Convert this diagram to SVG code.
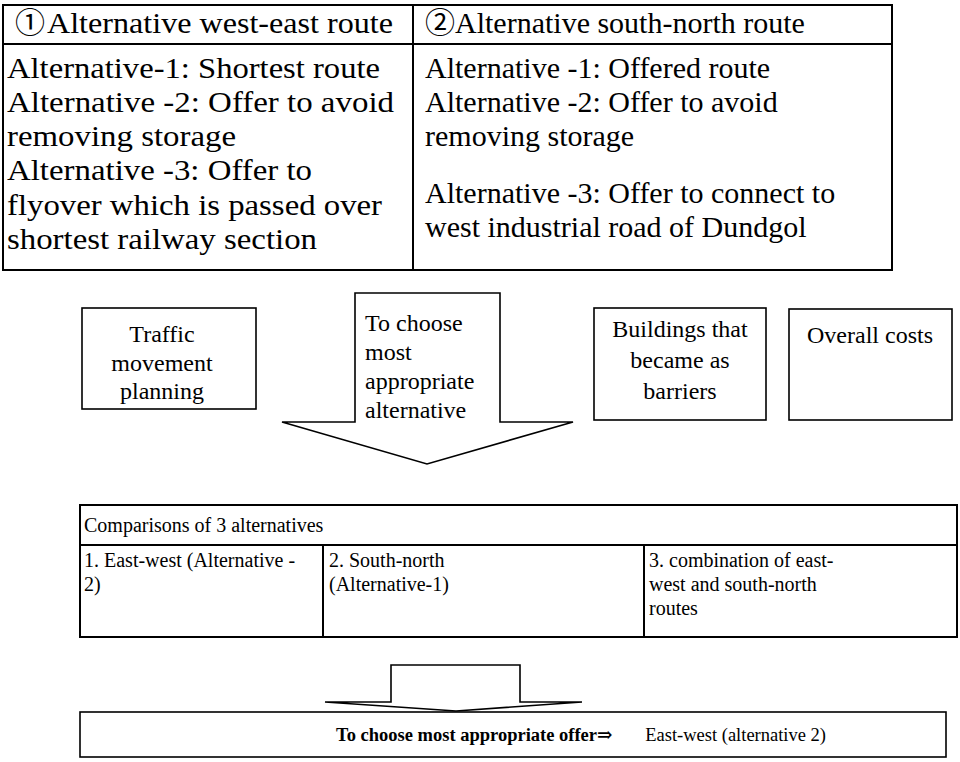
<svg xmlns="http://www.w3.org/2000/svg" width="960" height="762" viewBox="0 0 960 762">
<style>
text{font-family:"Liberation Serif","Times New Roman",serif;fill:#000}
.sym{font-family:"DejaVu Serif","Noto Sans CJK JP",serif}
.big{font-size:30px}
.mid{font-size:24px}
.sm{font-size:20px}
.bt{font-size:18.5px}
.c{text-anchor:middle}
.e{text-anchor:end}
.ln{fill:none;stroke:#000;stroke-width:2}
.bx{fill:#fff;stroke:#000;stroke-width:1.6}
.ar{fill:#fff;stroke:#000;stroke-width:1.6;stroke-linejoin:miter}
</style>
<rect width="960" height="762" fill="#fff"/>

<g id="top-table">
  <rect class="ln" x="3" y="5" width="889" height="265"/>
  <line class="ln" x1="3" y1="44" x2="892" y2="44"/>
  <line class="ln" x1="413" y1="5" x2="413" y2="270"/>
  <text class="sym big" x="15" y="33">①</text>
  <text class="big" x="47" y="33" textLength="346" lengthAdjust="spacingAndGlyphs">Alternative west-east route</text>
  <text class="big" x="7" y="78" textLength="373" lengthAdjust="spacingAndGlyphs">Alternative-1: Shortest route</text>
  <text class="big" x="7" y="112" textLength="387" lengthAdjust="spacingAndGlyphs">Alternative -2: Offer to avoid</text>
  <text class="big" x="7" y="146" textLength="229" lengthAdjust="spacingAndGlyphs">removing storage</text>
  <text class="big" x="7" y="180" textLength="305" lengthAdjust="spacingAndGlyphs">Alternative -3: Offer to</text>
  <text class="big" x="7" y="215" textLength="375" lengthAdjust="spacingAndGlyphs">flyover which is passed over</text>
  <text class="big" x="7" y="249" textLength="310" lengthAdjust="spacingAndGlyphs">shortest railway section</text>
  <text class="sym big" x="425" y="33">②</text>
  <text class="big" x="455" y="33">Alternative south-north route</text>
  <text class="big" x="425" y="78">Alternative -1: Offered route</text>
  <text class="big" x="425" y="112">Alternative -2: Offer to avoid</text>
  <text class="big" x="425" y="146">removing storage</text>
  <text class="big" x="425" y="203">Alternative -3: Offer to connect to</text>
  <text class="big" x="425" y="237">west industrial road of Dundgol</text>
</g>

<g id="connectors">
  <polygon id="arrow-choose" class="ar" points="355,293 500,293 500,422 573,422 427,464 282,422 355,422"/>
  <polygon id="arrow-offer" class="ar" points="391,665 520,665 520,702 582,702 456,711 325,702 391,702"/>
</g>

<g id="node-choose-label">
  <text class="mid" x="365" y="331">To choose</text>
  <text class="mid" x="365" y="360">most</text>
  <text class="mid" x="365" y="389">appropriate</text>
  <text class="mid" x="365" y="418">alternative</text>
</g>

<g id="node-traffic">
  <rect class="bx" x="82" y="308" width="174" height="101"/>
  <text class="mid c" x="162" y="342">Traffic</text>
  <text class="mid c" x="162" y="371">movement</text>
  <text class="mid c" x="162" y="399">planning</text>
</g>

<g id="node-buildings">
  <rect class="bx" x="594" y="308" width="172" height="112"/>
  <text class="mid c" x="680" y="337">Buildings that</text>
  <text class="mid c" x="680" y="368">became as</text>
  <text class="mid c" x="680" y="399">barriers</text>
</g>

<g id="node-costs">
  <rect class="bx" x="789" y="309" width="163" height="111"/>
  <text class="mid c" x="870" y="343">Overall costs</text>
</g>

<g id="comparison-table">
  <rect class="ln" x="80" y="505" width="877" height="132"/>
  <line class="ln" x1="80" y1="545" x2="957" y2="545"/>
  <line class="ln" x1="323" y1="545" x2="323" y2="637"/>
  <line class="ln" x1="644" y1="545" x2="644" y2="637"/>
  <text class="sm" x="84" y="532">Comparisons of 3 alternatives</text>
  <text class="sm" x="84" y="567">1. East-west (Alternative -</text>
  <text class="sm" x="84" y="591">2)</text>
  <text class="sm" x="329" y="567">2. South-north</text>
  <text class="sm" x="329" y="591">(Alternative-1)</text>
  <text class="sm" x="649" y="567">3. combination of east-</text>
  <text class="sm" x="649" y="591">west and south-north</text>
  <text class="sm" x="649" y="615">routes</text>
</g>

<g id="node-result">
  <rect class="bx" x="80" y="712" width="866" height="45"/>
  <text class="bt" x="336" y="741" font-weight="bold">To choose most appropriate offer<tspan class="sym">⇒</tspan></text>
  <text class="bt e" x="826" y="741">East-west (alternative 2)</text>
</g>
</svg>
